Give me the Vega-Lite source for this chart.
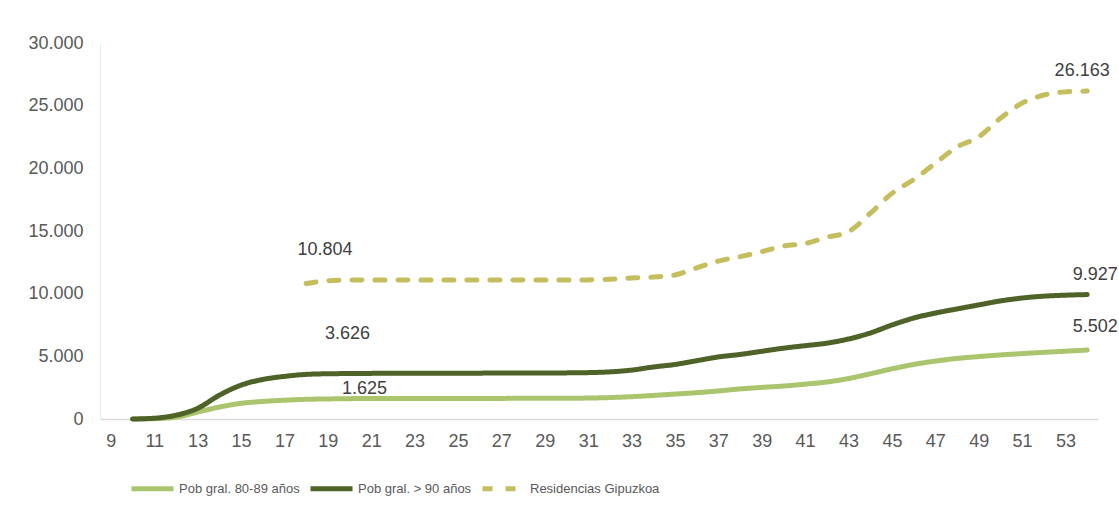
{
  "$schema": "https://vega.github.io/schema/vega-lite/v6.json",
  "width": 998,
  "height": 376,
  "autosize": {"type": "none"},
  "padding": {"left": 100, "top": 43, "right": 21, "bottom": 95},
  "background": "white",
  "config": {
    "locale": {"number": {"decimal": ",", "thousands": ".", "grouping": [3], "currency": ["", " €"]}},
    "view": {"stroke": null},
    "font": "Liberation Sans"
  },
  "datasets": {
    "series": [
      {"week": 10, "serie": "Pob gral. 80-89 años", "value": 0},
      {"week": 11, "serie": "Pob gral. 80-89 años", "value": 30},
      {"week": 12, "serie": "Pob gral. 80-89 años", "value": 150},
      {"week": 13, "serie": "Pob gral. 80-89 años", "value": 550},
      {"week": 14, "serie": "Pob gral. 80-89 años", "value": 950},
      {"week": 15, "serie": "Pob gral. 80-89 años", "value": 1250},
      {"week": 16, "serie": "Pob gral. 80-89 años", "value": 1400},
      {"week": 17, "serie": "Pob gral. 80-89 años", "value": 1500},
      {"week": 18, "serie": "Pob gral. 80-89 años", "value": 1570},
      {"week": 19, "serie": "Pob gral. 80-89 años", "value": 1600},
      {"week": 20, "serie": "Pob gral. 80-89 años", "value": 1625},
      {"week": 21, "serie": "Pob gral. 80-89 años", "value": 1630},
      {"week": 22, "serie": "Pob gral. 80-89 años", "value": 1635},
      {"week": 23, "serie": "Pob gral. 80-89 años", "value": 1640},
      {"week": 24, "serie": "Pob gral. 80-89 años", "value": 1640},
      {"week": 25, "serie": "Pob gral. 80-89 años", "value": 1645},
      {"week": 26, "serie": "Pob gral. 80-89 años", "value": 1645},
      {"week": 27, "serie": "Pob gral. 80-89 años", "value": 1645},
      {"week": 28, "serie": "Pob gral. 80-89 años", "value": 1650},
      {"week": 29, "serie": "Pob gral. 80-89 años", "value": 1650},
      {"week": 30, "serie": "Pob gral. 80-89 años", "value": 1655},
      {"week": 31, "serie": "Pob gral. 80-89 años", "value": 1670},
      {"week": 32, "serie": "Pob gral. 80-89 años", "value": 1710},
      {"week": 33, "serie": "Pob gral. 80-89 años", "value": 1780},
      {"week": 34, "serie": "Pob gral. 80-89 años", "value": 1880},
      {"week": 35, "serie": "Pob gral. 80-89 años", "value": 1990},
      {"week": 36, "serie": "Pob gral. 80-89 años", "value": 2100},
      {"week": 37, "serie": "Pob gral. 80-89 años", "value": 2240},
      {"week": 38, "serie": "Pob gral. 80-89 años", "value": 2400},
      {"week": 39, "serie": "Pob gral. 80-89 años", "value": 2520},
      {"week": 40, "serie": "Pob gral. 80-89 años", "value": 2630},
      {"week": 41, "serie": "Pob gral. 80-89 años", "value": 2780},
      {"week": 42, "serie": "Pob gral. 80-89 años", "value": 2950},
      {"week": 43, "serie": "Pob gral. 80-89 años", "value": 3230},
      {"week": 44, "serie": "Pob gral. 80-89 años", "value": 3600},
      {"week": 45, "serie": "Pob gral. 80-89 años", "value": 4000},
      {"week": 46, "serie": "Pob gral. 80-89 años", "value": 4350},
      {"week": 47, "serie": "Pob gral. 80-89 años", "value": 4620},
      {"week": 48, "serie": "Pob gral. 80-89 años", "value": 4830},
      {"week": 49, "serie": "Pob gral. 80-89 años", "value": 4980},
      {"week": 50, "serie": "Pob gral. 80-89 años", "value": 5110},
      {"week": 51, "serie": "Pob gral. 80-89 años", "value": 5220},
      {"week": 52, "serie": "Pob gral. 80-89 años", "value": 5320},
      {"week": 53, "serie": "Pob gral. 80-89 años", "value": 5410},
      {"week": 54, "serie": "Pob gral. 80-89 años", "value": 5502},
      {"week": 10, "serie": "Pob gral. > 90 años", "value": 0},
      {"week": 11, "serie": "Pob gral. > 90 años", "value": 60},
      {"week": 12, "serie": "Pob gral. > 90 años", "value": 300},
      {"week": 13, "serie": "Pob gral. > 90 años", "value": 850},
      {"week": 14, "serie": "Pob gral. > 90 años", "value": 1900},
      {"week": 15, "serie": "Pob gral. > 90 años", "value": 2700},
      {"week": 16, "serie": "Pob gral. > 90 años", "value": 3150},
      {"week": 17, "serie": "Pob gral. > 90 años", "value": 3400},
      {"week": 18, "serie": "Pob gral. > 90 años", "value": 3560},
      {"week": 19, "serie": "Pob gral. > 90 años", "value": 3610},
      {"week": 20, "serie": "Pob gral. > 90 años", "value": 3626},
      {"week": 21, "serie": "Pob gral. > 90 años", "value": 3640},
      {"week": 22, "serie": "Pob gral. > 90 años", "value": 3645},
      {"week": 23, "serie": "Pob gral. > 90 años", "value": 3650},
      {"week": 24, "serie": "Pob gral. > 90 años", "value": 3655},
      {"week": 25, "serie": "Pob gral. > 90 años", "value": 3660},
      {"week": 26, "serie": "Pob gral. > 90 años", "value": 3660},
      {"week": 27, "serie": "Pob gral. > 90 años", "value": 3665},
      {"week": 28, "serie": "Pob gral. > 90 años", "value": 3665},
      {"week": 29, "serie": "Pob gral. > 90 años", "value": 3670},
      {"week": 30, "serie": "Pob gral. > 90 años", "value": 3680},
      {"week": 31, "serie": "Pob gral. > 90 años", "value": 3700},
      {"week": 32, "serie": "Pob gral. > 90 años", "value": 3760},
      {"week": 33, "serie": "Pob gral. > 90 años", "value": 3900},
      {"week": 34, "serie": "Pob gral. > 90 años", "value": 4150},
      {"week": 35, "serie": "Pob gral. > 90 años", "value": 4350},
      {"week": 36, "serie": "Pob gral. > 90 años", "value": 4650},
      {"week": 37, "serie": "Pob gral. > 90 años", "value": 4950},
      {"week": 38, "serie": "Pob gral. > 90 años", "value": 5150},
      {"week": 39, "serie": "Pob gral. > 90 años", "value": 5400},
      {"week": 40, "serie": "Pob gral. > 90 años", "value": 5650},
      {"week": 41, "serie": "Pob gral. > 90 años", "value": 5850},
      {"week": 42, "serie": "Pob gral. > 90 años", "value": 6050},
      {"week": 43, "serie": "Pob gral. > 90 años", "value": 6380},
      {"week": 44, "serie": "Pob gral. > 90 años", "value": 6860},
      {"week": 45, "serie": "Pob gral. > 90 años", "value": 7500},
      {"week": 46, "serie": "Pob gral. > 90 años", "value": 8050},
      {"week": 47, "serie": "Pob gral. > 90 años", "value": 8450},
      {"week": 48, "serie": "Pob gral. > 90 años", "value": 8780},
      {"week": 49, "serie": "Pob gral. > 90 años", "value": 9100},
      {"week": 50, "serie": "Pob gral. > 90 años", "value": 9420},
      {"week": 51, "serie": "Pob gral. > 90 años", "value": 9650},
      {"week": 52, "serie": "Pob gral. > 90 años", "value": 9800},
      {"week": 53, "serie": "Pob gral. > 90 años", "value": 9880},
      {"week": 54, "serie": "Pob gral. > 90 años", "value": 9927},
      {"week": 18, "serie": "Residencias Gipuzkoa", "value": 10804},
      {"week": 19, "serie": "Residencias Gipuzkoa", "value": 11030},
      {"week": 20, "serie": "Residencias Gipuzkoa", "value": 11080},
      {"week": 21, "serie": "Residencias Gipuzkoa", "value": 11090},
      {"week": 22, "serie": "Residencias Gipuzkoa", "value": 11090},
      {"week": 23, "serie": "Residencias Gipuzkoa", "value": 11095},
      {"week": 24, "serie": "Residencias Gipuzkoa", "value": 11095},
      {"week": 25, "serie": "Residencias Gipuzkoa", "value": 11095},
      {"week": 26, "serie": "Residencias Gipuzkoa", "value": 11095},
      {"week": 27, "serie": "Residencias Gipuzkoa", "value": 11095},
      {"week": 28, "serie": "Residencias Gipuzkoa", "value": 11100},
      {"week": 29, "serie": "Residencias Gipuzkoa", "value": 11100},
      {"week": 30, "serie": "Residencias Gipuzkoa", "value": 11100},
      {"week": 31, "serie": "Residencias Gipuzkoa", "value": 11100},
      {"week": 32, "serie": "Residencias Gipuzkoa", "value": 11150},
      {"week": 33, "serie": "Residencias Gipuzkoa", "value": 11250},
      {"week": 34, "serie": "Residencias Gipuzkoa", "value": 11330},
      {"week": 35, "serie": "Residencias Gipuzkoa", "value": 11490},
      {"week": 36, "serie": "Residencias Gipuzkoa", "value": 12050},
      {"week": 37, "serie": "Residencias Gipuzkoa", "value": 12600},
      {"week": 38, "serie": "Residencias Gipuzkoa", "value": 12950},
      {"week": 39, "serie": "Residencias Gipuzkoa", "value": 13350},
      {"week": 40, "serie": "Residencias Gipuzkoa", "value": 13800},
      {"week": 41, "serie": "Residencias Gipuzkoa", "value": 14000},
      {"week": 42, "serie": "Residencias Gipuzkoa", "value": 14500},
      {"week": 43, "serie": "Residencias Gipuzkoa", "value": 14950},
      {"week": 44, "serie": "Residencias Gipuzkoa", "value": 16400},
      {"week": 45, "serie": "Residencias Gipuzkoa", "value": 18000},
      {"week": 46, "serie": "Residencias Gipuzkoa", "value": 19100},
      {"week": 47, "serie": "Residencias Gipuzkoa", "value": 20400},
      {"week": 48, "serie": "Residencias Gipuzkoa", "value": 21700},
      {"week": 49, "serie": "Residencias Gipuzkoa", "value": 22500},
      {"week": 50, "serie": "Residencias Gipuzkoa", "value": 24000},
      {"week": 51, "serie": "Residencias Gipuzkoa", "value": 25200},
      {"week": 52, "serie": "Residencias Gipuzkoa", "value": 25850},
      {"week": 53, "serie": "Residencias Gipuzkoa", "value": 26100},
      {"week": 54, "serie": "Residencias Gipuzkoa", "value": 26163}
    ]
  },
  "data": {"name": "series"},
  "encoding": {
    "x": {
      "field": "week", "type": "quantitative",
      "scale": {"domain": [8.5, 54.5], "nice": false, "zero": false},
      "axis": {
        "title": null, "values": [9,11,13,15,17,19,21,23,25,27,29,31,33,35,37,39,41,43,45,47,49,51,53],
        "grid": false, "ticks": false, "labelFontSize": 18, "labelColor": "#595959",
        "labelPadding": 13, "domainColor": "#d9d9d9", "domainWidth": 1.5, "labelFlush": false
      }
    },
    "y": {
      "field": "value", "type": "quantitative",
      "scale": {"domain": [0, 30000], "nice": false},
      "axis": {
        "title": null, "values": [0, 5000, 10000, 15000, 20000, 25000, 30000], "format": ",d",
        "grid": false, "ticks": false, "labelFontSize": 18, "labelColor": "#595959",
        "labelPadding": 17, "domainColor": "#ececec", "domainWidth": 1
      }
    }
  },
  "layer": [
    {
      "mark": {"type": "line", "strokeWidth": 5, "strokeCap": "round", "interpolate": "monotone"},
      "encoding": {
        "color": {
          "field": "serie", "type": "nominal",
          "scale": {"domain": ["Pob gral. 80-89 años", "Pob gral. > 90 años", "Residencias Gipuzkoa"], "range": ["#abc56f", "#4f6328", "#c4be5f"]},
          "legend": {
            "title": null, "orient": "none", "direction": "horizontal", "legendX": 29, "legendY": 422,
            "symbolType": "stroke", "symbolSize": 1764, "symbolStrokeWidth": 5,
            "labelFont": "Liberation Sans", "labelFontSize": 13, "labelColor": "#595959",
            "labelOffset": 3, "columnPadding": 0, "padding": 0
          }
        },
        "strokeDash": {
          "field": "serie", "type": "nominal",
          "scale": {"domain": ["Pob gral. 80-89 años", "Pob gral. > 90 años", "Residencias Gipuzkoa"], "range": [[1, 0], [1, 0], [10, 13]]},
          "legend": null
        }
      }
    },
    {
      "transform": [{"filter": "datum.week == 18 && datum.serie == 'Residencias Gipuzkoa'"}],
      "mark": {"type": "text", "fontSize": 18, "color": "#404040", "dx": 19, "dy": -34},
      "encoding": {"text": {"field": "value", "type": "quantitative", "format": ",d"}}
    },
    {
      "transform": [{"filter": "datum.week == 20 && datum.serie == 'Pob gral. > 90 años'"}],
      "mark": {"type": "text", "fontSize": 18, "color": "#404040", "dx": -2, "dy": -40},
      "encoding": {"text": {"field": "value", "type": "quantitative", "format": ",d"}}
    },
    {
      "transform": [{"filter": "datum.week == 20 && datum.serie == 'Pob gral. 80-89 años'"}],
      "mark": {"type": "text", "fontSize": 18, "color": "#404040", "dx": 15, "dy": -10},
      "encoding": {"text": {"field": "value", "type": "quantitative", "format": ",d"}}
    },
    {
      "transform": [{"filter": "datum.week == 54 && datum.serie == 'Residencias Gipuzkoa'"}],
      "mark": {"type": "text", "fontSize": 18, "color": "#404040", "dx": -5, "dy": -20},
      "encoding": {"text": {"field": "value", "type": "quantitative", "format": ",d"}}
    },
    {
      "transform": [{"filter": "datum.week == 54 && datum.serie == 'Pob gral. > 90 años'"}],
      "mark": {"type": "text", "fontSize": 18, "color": "#404040", "dx": 8, "dy": -20},
      "encoding": {"text": {"field": "value", "type": "quantitative", "format": ",d"}}
    },
    {
      "transform": [{"filter": "datum.week == 54 && datum.serie == 'Pob gral. 80-89 años'"}],
      "mark": {"type": "text", "fontSize": 18, "color": "#404040", "dx": 8, "dy": -23},
      "encoding": {"text": {"field": "value", "type": "quantitative", "format": ",d"}}
    }
  ]
}
